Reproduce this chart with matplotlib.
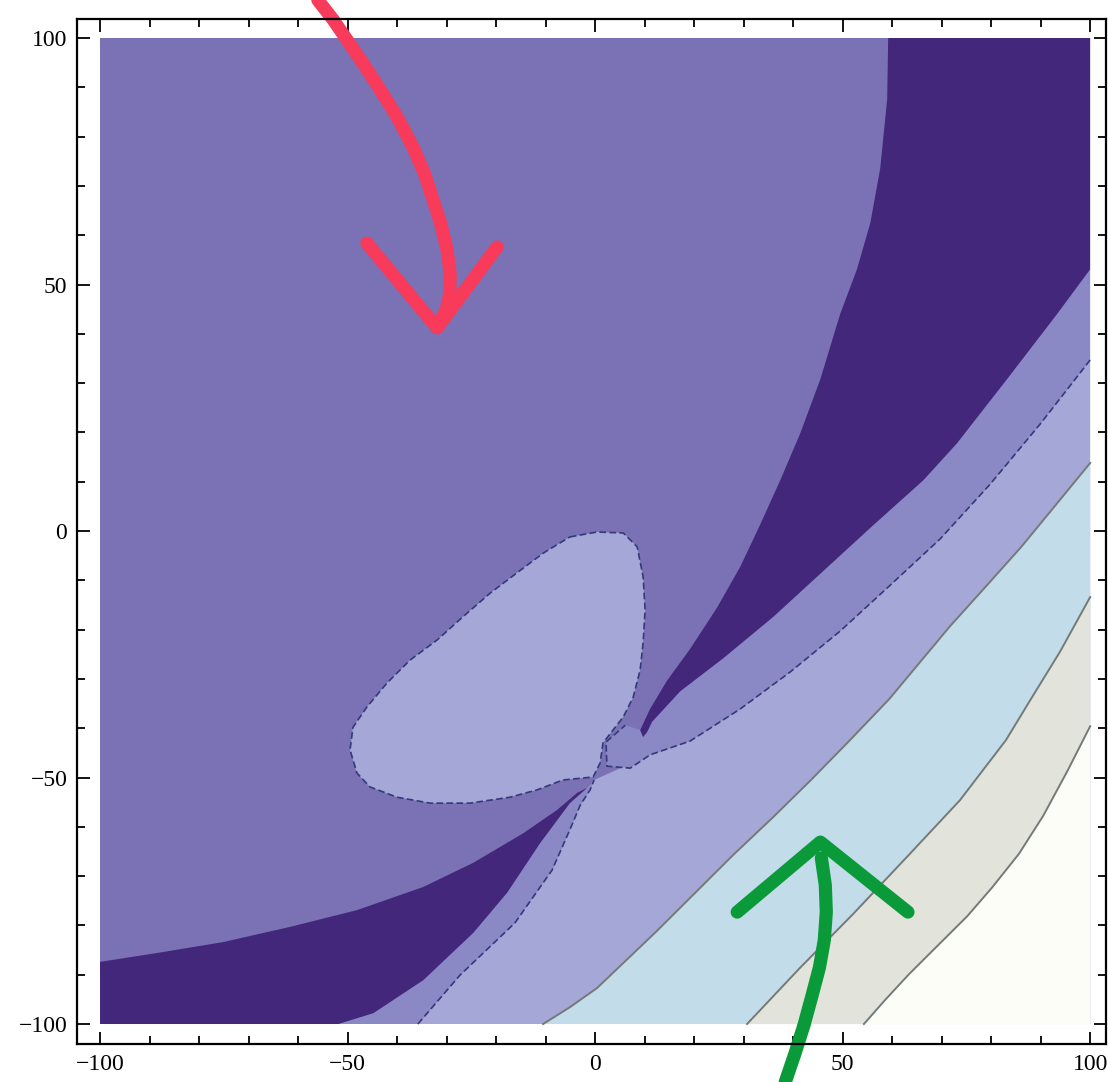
import numpy as np
from matplotlib import pyplot as plt

# colours of the contour levels (Mathematica default look)
c_back  = "#7a72b4"
c_dark  = "#42277a"
c_mid   = "#8b88c6"
c_lav   = "#a5a7d6"
c_blue  = "#c3dcea"
c_beige = "#e2e4dc"
c_white = "#fdfdf8"

# --- region boundaries (x, y in data units) ---
dark_up_left = np.array([
    (59.2, 100), (59.0, 87.6), (57.6, 73.6), (55.6, 62.5), (52.9, 53.1),
    (49.5, 44.0), (45.5, 30.8), (41.4, 19.7), (37.4, 10.3), (33.3, 1.2),
    (29.3, -7.3), (24.6, -15.6), (19.2, -23.9), (14.5, -30.4), (11.1, -36.1),
    (9.1, -40.4), (9.7, -41.8)])
dark_up_right = np.array([
    (10.5, -40.8), (11.5, -38.7), (17.2, -32.5), (25.9, -25.8), (36.0, -17.4),
    (46.1, -8.1), (56.2, 1.2), (66.3, 10.3), (73.1, 17.8), (83.2, 30.8),
    (93.3, 44.0), (100, 53.1), (100, 100)])

mid_up_dash = np.array([
    (100, 34.7), (89.9, 21.7), (79.8, 9.5), (69.7, -1.6), (59.6, -11.0),
    (49.5, -20.3), (39.4, -28.6), (29.3, -36.1), (19.2, -42.6), (11.1, -45.4),
    (7.1, -48.1), (2.4, -47.7), (2.2, -42.8), (6.1, -39.4)])

lobe = np.array([
    (-5.1, -1.2), (0.4, -0.2), (5.7, -0.4), (8.5, -3.2), (9.7, -9.3),
    (10.1, -16.0), (9.7, -22.7), (9.1, -28.2), (7.7, -33.7), (5.7, -37.7),
    (3.6, -40.4), (1.6, -43.0), (1.0, -47.1), (-0.4, -49.9), (-6.5, -50.5),
    (-11.7, -52.5), (-17.2, -54.0), (-25.3, -55.2), (-33.3, -55.2), (-40.0, -54.0),
    (-45.5, -51.9), (-48.1, -49.1), (-49.5, -44.4), (-48.9, -39.8), (-46.1, -35.7),
    (-42.0, -30.8), (-37.4, -26.2), (-31.9, -22.1), (-26.7, -17.4), (-21.2, -12.6),
    (-15.8, -8.5), (-10.5, -4.5), (-5.1, -1.2)])

dark_low_top = np.array([
    (-100, -100), (-100, -87.4), (-88.5, -85.6), (-75.2, -83.4), (-61.6, -80.3),
    (-48.1, -76.9), (-34.7, -72.2), (-24.6, -67.3), (-14.5, -61.3), (-7.7, -56.6),
    (-3.6, -53.1), (-1.6, -52.1)])
dark_low_bottom = np.array([
    (-5.1, -55.2), (-11.1, -63.3), (-17.8, -73.4), (-24.6, -81.5),
    (-34.7, -91.1), (-44.8, -97.8), (-51.9, -100)])

mid_low_dash = np.array([
    (-35.8, -100), (-27.3, -90.1), (-16.2, -79.5), (-8.7, -68.8),
    (-5.1, -60.6), (-3.0, -55.6), (-1.0, -52.5), (-0.2, -50.5)])

grey_1 = np.array([
    (100, 13.8), (92.9, 5.1), (86.1, -3.2), (78.8, -11.4), (71.7, -19.3),
    (59.4, -34.1), (51.5, -42.4), (43.6, -50.5), (35.8, -58.2), (27.9, -65.7),
    (20.2, -73.4), (12.3, -81.3), (5.1, -88.2), (0.4, -92.7), (-5.1, -96.6),
    (-10.5, -100)])
grey_2 = np.array([
    (100, -13.4), (93.9, -24.5), (87.9, -34.3), (83.0, -42.4), (73.7, -54.6),
    (63.0, -66.1), (52.1, -77.7), (41.4, -88.6), (30.7, -100)])
grey_3 = np.array([
    (100, -39.6), (95.5, -48.5), (90.5, -57.8), (85.6, -65.5), (80.2, -72.3),
    (75.2, -78.1), (69.7, -83.6), (63.4, -89.9), (58.6, -95.1), (54.3, -100)])

# hand drawn arrows on top of the plot
red_shaft = np.array([
    (-56.0, 107.7), (-52.9, 103.7), (-50.1, 99.6), (-46.9, 94.9), (-43.4, 89.5),
    (-40.0, 84.0), (-36.8, 77.9), (-34.5, 72.6), (-32.7, 67.1), (-31.1, 62.1),
    (-29.9, 57.0), (-29.3, 52.5), (-29.3, 48.3), (-30.1, 44.8), (-31.3, 42.4)])
red_head = np.array([(-46.1, 58.4), (-31.9, 41.2), (-19.8, 57.6)])
green_shaft = np.array([
    (45.7, -66.3), (46.5, -71.8), (46.7, -77.3), (46.3, -83.0), (45.3, -88.6),
    (43.8, -94.3), (42.2, -100.2), (40.4, -105.9), (38.4, -111.8)])
green_head = np.array([(28.7, -77.3), (45.5, -63.1), (63.2, -77.3)])

major_ticks = [-100, -50, 0, 50, 100]
minor_ticks = list(range(-100, 101, 10))

plt.rcParams['font.family'] = ['Liberation Serif', 'DejaVu Serif']

fig = plt.figure(figsize=(11.08, 10.82), dpi=100, facecolor="white")
ax = fig.add_axes([0.0695, 0.0351, 0.9287, 0.9473])
ax.set_facecolor("white")


def fill(pts, color, z):
    ax.fill(pts[:, 0], pts[:, 1], color=color, lw=0, zorder=z)


# background level
fill(np.array([(-100, -100), (-100, 100), (100, 100), (100, -100)]), c_back, 1)

# lavender band + lobe
lav_band = np.vstack([mid_low_dash, mid_up_dash[:10][::-1], [(100, -100)]])
fill(lav_band, c_lav, 2)
fill(lobe, c_lav, 2)

# mid purple bands
mid_up = np.vstack([mid_up_dash, dark_up_right[:-1]])
fill(mid_up, c_mid, 3)
mid_low = np.vstack([mid_low_dash, dark_low_top[-1:], dark_low_bottom])
fill(mid_low, c_mid, 3)

# dark bands
fill(np.vstack([dark_up_left, dark_up_right]), c_dark, 4)
fill(np.vstack([dark_low_top, dark_low_bottom]), c_dark, 4)

# light bands in the lower right corner
fill(np.vstack([grey_1, [(100, -100)]]), c_blue, 5)
fill(np.vstack([grey_2, [(100, -100)]]), c_beige, 6)
fill(np.vstack([grey_3, [(100, -100)]]), c_white, 7)

# contour lines
for g in (grey_1, grey_2, grey_3):
    ax.plot(g[:, 0], g[:, 1], color="#737a78", lw=1.4, zorder=8)
for d in (mid_up_dash, mid_low_dash, lobe):
    ax.plot(d[:, 0], d[:, 1], color="#33397a", lw=1.2, ls=(0, (4, 2)), zorder=8)

# arrows
red = "#f83a5b"
green = "#0a9a3a"
for pts, col in ((red_shaft, red), (red_head, red), (green_shaft, green), (green_head, green)):
    ax.plot(pts[:, 0], pts[:, 1], color=col, lw=9.5, solid_capstyle="round",
            solid_joinstyle="round", zorder=10, clip_on=False)

ax.set_xlim(-104.65, 103.2)
ax.set_ylim(-104.06, 103.85)

ax.set_xticks(major_ticks)
ax.set_yticks(major_ticks)
ax.set_xticks(minor_ticks, minor=True)
ax.set_yticks(minor_ticks, minor=True)
ax.tick_params(which="both", direction="in", top=True, right=True,
               labeltop=False, labelright=False, width=1.3, colors="black")
ax.tick_params(which="major", length=9, labelsize=17, pad=7)
ax.tick_params(which="minor", length=5.5)
for s in ax.spines.values():
    s.set_linewidth(1.6)
    s.set_zorder(12)

fig.savefig("out.png", dpi=100, facecolor="white")
